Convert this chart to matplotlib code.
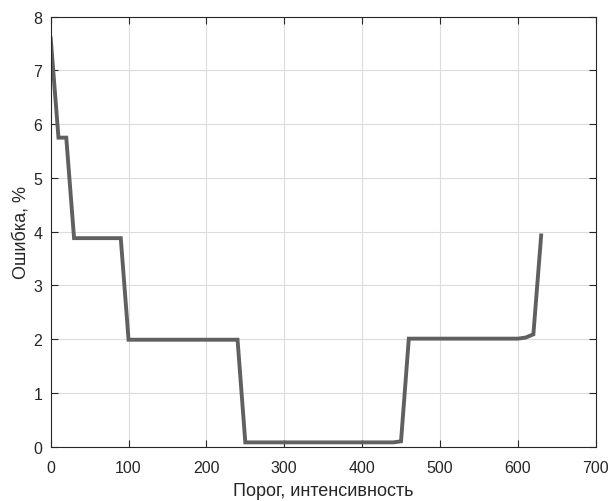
import matplotlib
matplotlib.use('Agg')
import matplotlib.pyplot as plt

# threshold vs error (breakpoints of the curve)
threshold = [0, 10, 20, 30, 90, 100, 240, 250, 440, 450, 460, 600, 610, 620, 630]
error_pct = [7.6, 5.75, 5.75, 3.88, 3.88, 1.99, 1.99, 0.08, 0.08, 0.1, 2.01, 2.01, 2.03, 2.09, 3.93]

x_ticks = [0, 100, 200, 300, 400, 500, 600, 700]
y_ticks = [0, 1, 2, 3, 4, 5, 6, 7, 8]

plt.rcParams['font.family'] = ['Liberation Sans', 'DejaVu Sans']

fig = plt.figure(figsize=(6.13, 5.02), dpi=100)
ax = fig.add_axes([0.0827, 0.1082, 0.889, 0.8565])

ax.plot(threshold, error_pct, color='#606060', lw=2.8, solid_joinstyle='miter')

ax.set_xlim(0, 700)
ax.set_ylim(0, 8)
ax.set_xticks(x_ticks)
ax.set_yticks(y_ticks)
ax.grid(True, color='#dcdcdc', lw=0.8)
ax.set_axisbelow(True)
ax.tick_params(direction='in', top=True, right=True, labelsize=11.5, colors='#262626', length=5)
ax.tick_params(axis='x', pad=9.5)
ax.tick_params(axis='y', pad=6)
for s in ax.spines.values():
    s.set_color('#262626')
    s.set_linewidth(0.8)

ax.set_xlabel('Порог, интенсивность', fontsize=13, color='#262626', labelpad=5)
ax.set_ylabel('Ошибка, %', fontsize=13, color='#262626', labelpad=3)

fig.savefig('out.png', dpi=100)
